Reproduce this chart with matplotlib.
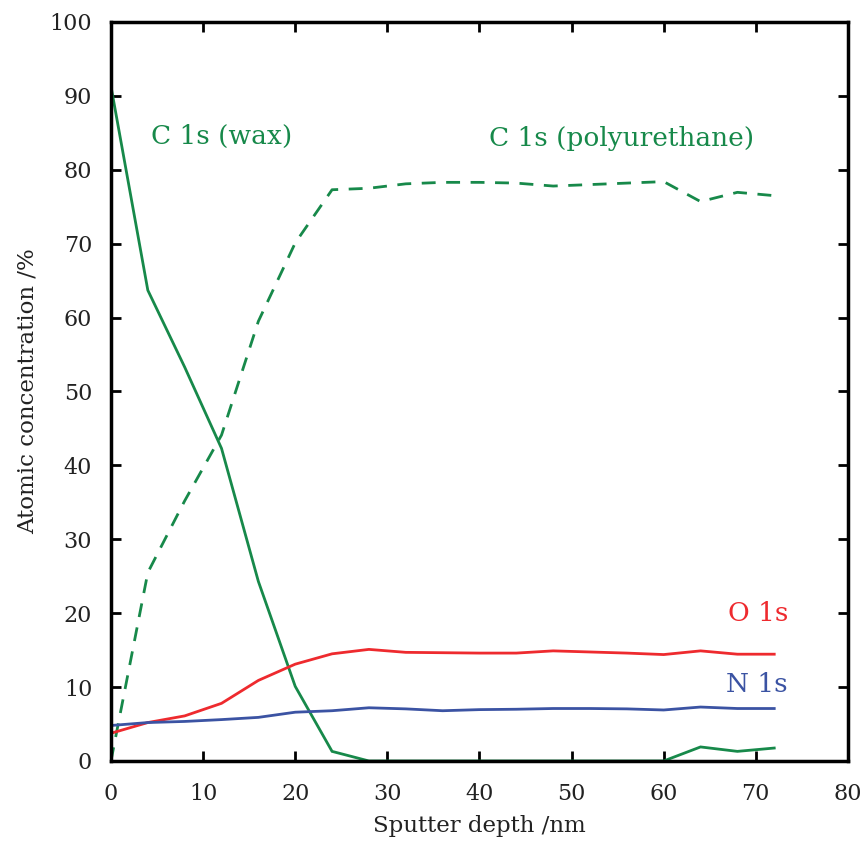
import matplotlib
matplotlib.use("Agg")
import matplotlib.pyplot as plt

depth = [0, 4, 8, 12, 16, 20, 24, 28, 32, 36, 40, 44, 48, 52, 56, 60, 64, 68, 72]
c1s_wax = [91.3, 63.7, 53.3, 42.3, 24.3, 10.1, 1.3, 0, 0, 0, 0, 0, 0, 0, 0, 0, 1.9, 1.3, 1.75]
c1s_pu = [0, 25.5, 35.2, 44.1, 59.5, 70.1, 77.3, 77.5, 78.1, 78.3, 78.3, 78.2, 77.8, 78.0, 78.2, 78.4, 75.7, 76.95, 76.5]
o1s = [3.75, 5.2, 6.1, 7.8, 10.9, 13.1, 14.5, 15.1, 14.7, 14.65, 14.6, 14.6, 14.9, 14.75, 14.6, 14.4, 14.9, 14.45, 14.45]
n1s = [4.8, 5.2, 5.35, 5.6, 5.9, 6.6, 6.8, 7.2, 7.05, 6.8, 6.95, 7.0, 7.1, 7.1, 7.05, 6.9, 7.3, 7.1, 7.1]

green = '#17894a'
red = '#ee2a2e'
blue = '#3b53a3'

plt.rcParams['font.family'] = ['DejaVu Serif']

fig = plt.figure(figsize=(8.67, 8.46), dpi=100)
ax = fig.add_axes([0.128, 0.1005, 0.850, 0.8735])

lw = 2.0
ax.plot(depth, c1s_wax, color=green, lw=lw, solid_joinstyle='miter')
ax.plot(depth, c1s_pu, color=green, lw=lw, linestyle=(0, (5, 3.8)))
ax.plot(depth, o1s, color=red, lw=lw)
ax.plot(depth, n1s, color=blue, lw=lw)

ax.set_xlim(0, 80)
ax.set_ylim(0, 100)
ax.set_xticks(range(0, 81, 10))
ax.set_yticks(range(0, 101, 10))
ax.tick_params(direction='in', length=7, width=2, labelsize=16, top=True, right=True,
               labeltop=False, labelright=False, colors='black', labelcolor='#222222')
ax.tick_params(axis='x', pad=16)
ax.tick_params(axis='y', pad=13.5)
for s in ax.spines.values():
    s.set_linewidth(2.5)

ax.set_xlabel('Sputter depth /nm', fontsize=16.5, color='#222222', labelpad=7)
ax.set_ylabel('Atomic concentration /%', fontsize=16.5, color='#222222', labelpad=8)

ax.text(4.3, 84.5, 'C 1s (wax)', color=green, fontsize=19, va='center', ha='left')
ax.text(41.0, 84.2, 'C 1s (polyurethane)', color=green, fontsize=19, va='center', ha='left')
ax.text(73.5, 19.9, 'O 1s', color=red, fontsize=19, va='center', ha='right')
ax.text(73.5, 10.4, 'N 1s', color=blue, fontsize=19, va='center', ha='right')

fig.savefig('out.png', dpi=100)
